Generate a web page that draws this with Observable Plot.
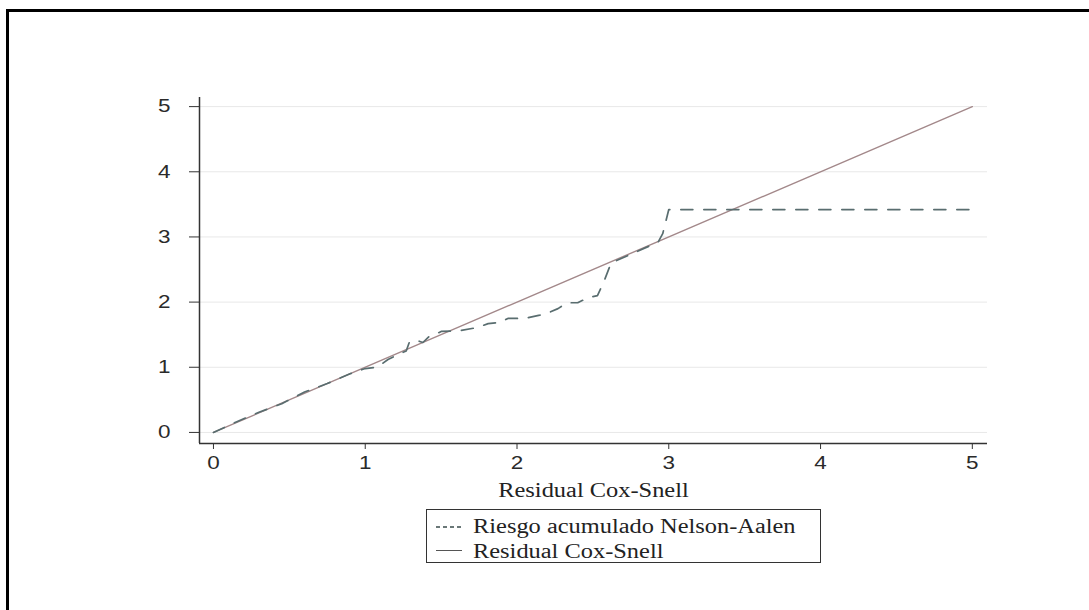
<!DOCTYPE html>
<html>
<head>
<meta charset="utf-8">
<script src="https://cdn.jsdelivr.net/npm/d3@7"></script>
<script src="https://cdn.jsdelivr.net/npm/@observablehq/plot@0.6"></script>
<style>
  html, body { margin: 0; padding: 0; background: #fff; }
  body { position: relative; width: 1089px; height: 610px; overflow: hidden; }
  #frame { position: absolute; left: 6px; top: 9px; right: -10px; bottom: -10px;
           border-left: 3px solid #000; border-top: 3px solid #000; }
  #chart { position: absolute; left: 0; top: 0; }
  #legend { position: absolute; left: 426px; top: 509px; width: 393px; height: 52px;
            border: 1px solid #333; background: #fff;
            font-family: "Liberation Serif", "Times New Roman", serif; font-size: 20px; color: #222; }
  #legend .lbl { position: absolute; left: 46px; line-height: 20px; white-space: nowrap;
                 transform: scaleX(1.22); transform-origin: left center; }
  #legend .sym { position: absolute; left: 9px; width: 26px; }
  #legend .dash { height: 1.5px; background: repeating-linear-gradient(90deg, #6a7878 0 4px, transparent 4px 7px); }
  #legend .solid { height: 1px; background: #555; }
</style>
</head>
<body>
<div id="frame"></div>
<div id="chart"></div>
<div id="legend">
  <div class="sym dash" style="top:16px"></div>
  <div class="lbl" style="top:6px">Riesgo acumulado Nelson-Aalen</div>
  <div class="sym solid" style="top:40px"></div>
  <div class="lbl" style="top:31px">Residual Cox-Snell</div>
</div>
<script>
// Axis ticks
const xTicks = [0, 1, 2, 3, 4, 5];
const yTicks = [0, 1, 2, 3, 4, 5];

// Reference line: Cox-Snell residual against itself
const coxSnellX = [0, 5];
const coxSnellY = [0, 5];

// Nelson-Aalen cumulative hazard of the Cox-Snell residuals
const nelsonAalenX = [0, 0.15, 0.3, 0.45, 0.6, 0.75, 0.9, 1.0, 1.08, 1.15, 1.22, 1.27, 1.29, 1.33, 1.38, 1.42, 1.46, 1.5, 1.62, 1.74, 1.81, 1.89, 1.94, 2.05, 2.15, 2.22, 2.27, 2.33, 2.4, 2.47, 2.53, 2.57, 2.62, 2.93, 2.96, 3.0, 5.0];
const nelsonAalenY = [0, 0.16, 0.31, 0.44, 0.62, 0.75, 0.9, 0.98, 1.0, 1.12, 1.2, 1.25, 1.38, 1.42, 1.38, 1.47, 1.5, 1.55, 1.56, 1.61, 1.67, 1.69, 1.75, 1.75, 1.8, 1.85, 1.9, 1.99, 1.99, 2.07, 2.1, 2.3, 2.6, 2.92, 3.05, 3.42, 3.42];

const coxSnell = coxSnellX.map((x, i) => ({x, y: coxSnellY[i]}));
const nelsonAalen = nelsonAalenX.map((x, i) => ({x, y: nelsonAalenY[i]}));

const xMin = -0.092, xMax = 5.1, yMin = -0.17, yMax = 5.14;

const chart = Plot.plot({
  width: 1089,
  height: 500,
  marginLeft: 199,
  marginRight: 102,
  marginTop: 97,
  marginBottom: 57,
  x: {domain: [xMin, xMax]},
  y: {domain: [yMin, yMax]},
  style: {fontFamily: "'Liberation Sans', Arial, sans-serif", fontSize: "18px", color: "#2a2a2a", background: "transparent"},
  marks: [
    Plot.gridY(yTicks, {stroke: "#e8e8e8", strokeOpacity: 1, strokeWidth: 1}),
    Plot.axisY(yTicks, {tickSize: 10, tickPadding: 19, label: null, tickFormat: d => String(d), stroke: "#333"}),
    Plot.axisX(xTicks, {tickSize: 6, tickPadding: 7, label: null, tickFormat: d => String(d), stroke: "#333"}),
    Plot.ruleX([xMin], {y1: yMin, y2: yMax, stroke: "#333", strokeWidth: 1.5}),
    Plot.ruleY([yMin], {x1: xMin, x2: xMax, stroke: "#333", strokeWidth: 1.5}),
    Plot.line(coxSnell, {x: "x", y: "y", stroke: "#a3888a", strokeWidth: 1.4}),
    Plot.line(nelsonAalen, {x: "x", y: "y", stroke: "#596d6f", strokeWidth: 1.7, strokeDasharray: "12,11"}),
    Plot.text(["Residual Cox-Snell"], {frameAnchor: "bottom", dy: 53, text: d => d,
      fontFamily: "'Liberation Serif', 'Times New Roman', serif", fontSize: 20, fill: "#222"})
  ]
});
document.getElementById("chart").appendChild(chart);

// Widen the glyphs a little: the lettering of this graph is set wide
chart.querySelectorAll("text").forEach(t => {
  const len = t.getComputedTextLength();
  const isTitle = t.textContent === "Residual Cox-Snell";
  t.setAttribute("textLength", (len * (isTitle ? 1.22 : 1.25)).toFixed(1));
  t.setAttribute("lengthAdjust", "spacingAndGlyphs");
});
</script>
</body>
</html>
